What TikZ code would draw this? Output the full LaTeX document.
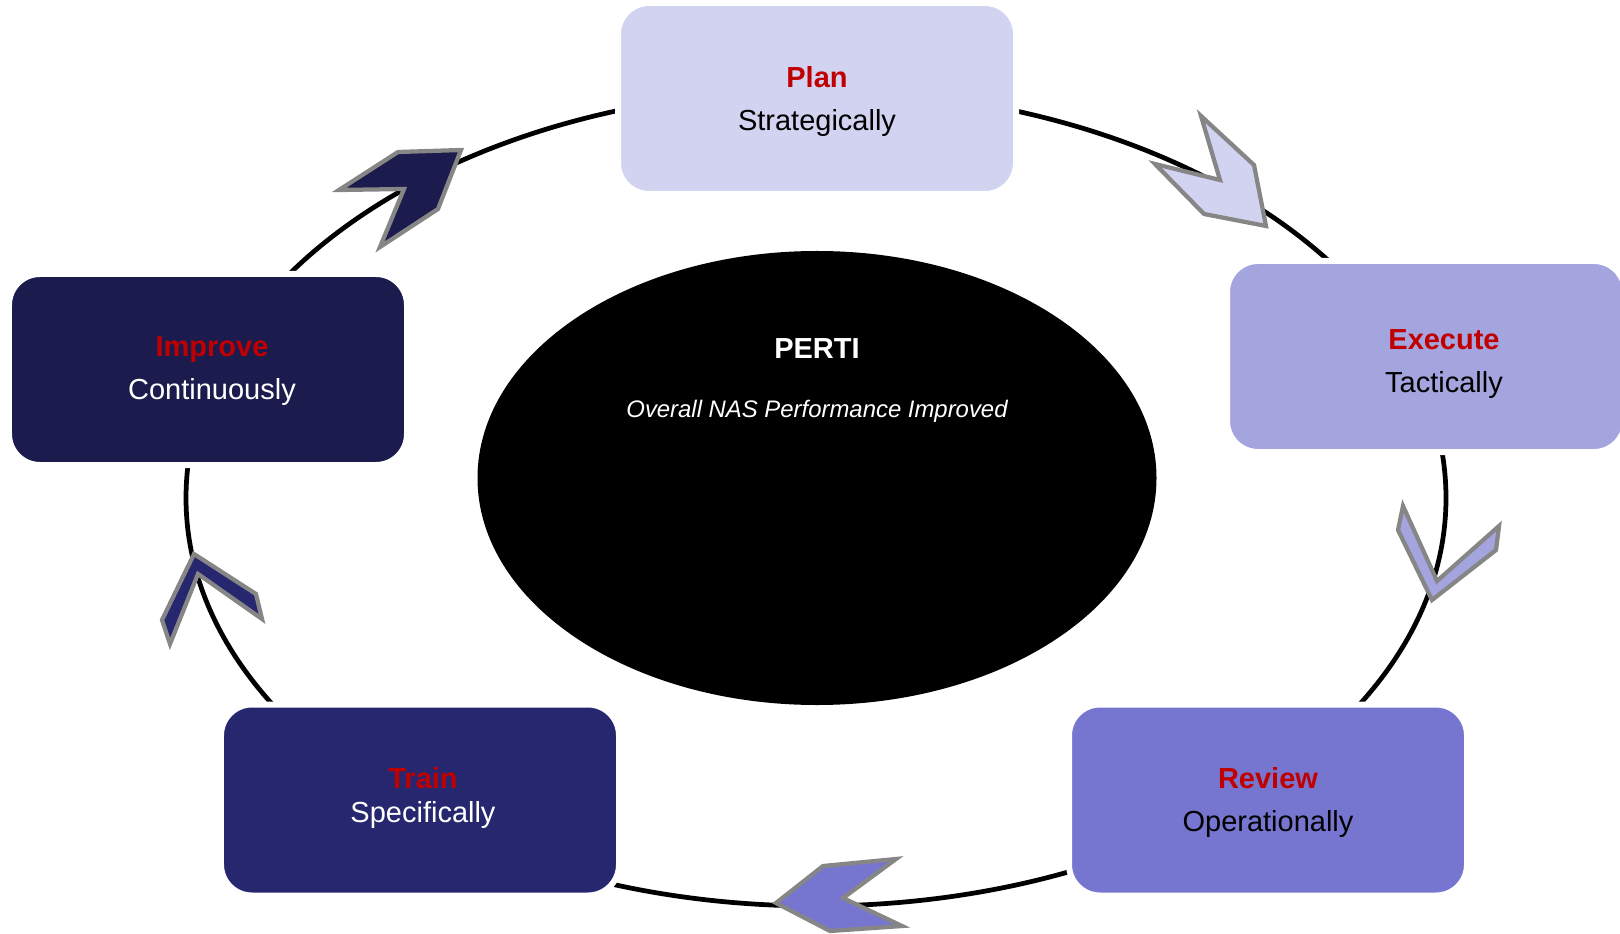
\documentclass[tikz,border=0pt]{standalone}
\usepackage{fontspec}
\setmainfont{Liberation Sans}
\usetikzlibrary{shapes.geometric}

\definecolor{planfill}{HTML}{D1D3F0}
\definecolor{execfill}{HTML}{A4A4DF}
\definecolor{reviewfill}{HTML}{7676D0}
\definecolor{trainfill}{HTML}{272770}
\definecolor{improvefill}{HTML}{1B1B4D}
\definecolor{titlered}{HTML}{C00000}
\definecolor{chevrongray}{HTML}{868686}

\begin{document}
\begin{tikzpicture}[x=0.2mm,y=-0.2mm,
    stage/.style={rectangle,rounded corners=6.2mm,minimum width=79.6mm,minimum height=38.2mm,
                  draw=white,line width=1.2mm,inner sep=0pt},
    caption/.style={align=center,inner sep=0pt,font=\fontsize{16.5}{24.5}\selectfont},
    chevron/.style={draw=chevrongray,line width=0.85mm},
    cycleline/.style={line width=0.95mm}]
  \useasboundingbox (0,0) rectangle (1620,934);

  \coordinate (hub) at (816,498);
  \draw[cycleline] (hub) ellipse [x radius=630,y radius=408];

  \node[ellipse,fill=black,minimum width=135.8mm,minimum height=90.8mm,inner sep=0pt] (perti) at (817,478) {};
  \node[anchor=base,text=white,font=\bfseries\fontsize{16.5}{20}\selectfont] (pertiname) at (817,359) {PERTI};
  \node[anchor=base,text=white,font=\itshape\fontsize{13.6}{16}\selectfont] (pertigoal) at (817,417.5) {Overall NAS Performance Improved};

  \draw[chevron,fill=improvefill] (398,152) -- (461,150) -- (438,209) -- (380,247) -- (404,189) -- (339,190) -- cycle;
  \draw[chevron,fill=planfill] (1201,116) -- (1254,165) -- (1266,226) -- (1204,214) -- (1155,164) -- (1220,180) -- cycle;
  \draw[chevron,fill=execfill] (1403,506) -- (1437,581) -- (1499,526) -- (1496,550) -- (1432,600) -- (1398,530) -- cycle;
  \draw[chevron,fill=reviewfill] (776,903) -- (823,866) -- (896,859) -- (843,898) -- (902,926) -- (830,931) -- cycle;
  \draw[chevron,fill=trainfill] (194,554) -- (256,594) -- (262,619) -- (198,574) -- (170,644) -- (162,620) -- cycle;

  \node[stage,fill=planfill] (plan) at (817,98.5) {};
  \node[stage,fill=execfill] (execute) at (1426,356.5) {};
  \node[stage,fill=reviewfill] (review) at (1268,800) {};
  \node[stage,fill=trainfill] (train) at (420,800) {};
  \node[stage,fill=improvefill] (improve) at (208,369.5) {};

  \node[caption] (plantext) at ([shift={(0,2.7)}]plan.center) {{\bfseries\color{titlered}Plan}\\Strategically};
  \node[caption] (executetext) at ([shift={(18,7.7)}]execute.center) {{\bfseries\color{titlered}Execute}\\Tactically};
  \node[caption] (reviewtext) at ([shift={(0,2.7)}]review.center) {{\bfseries\color{titlered}Review}\\Operationally};
  \node[caption,text=white] (traintext) at ([shift={(3,-2.1)}]train.center) {{\bfseries\color{titlered}Train}\\[-5.4pt]Specifically};
  \node[caption,text=white] (improvetext) at ([shift={(4,1.7)}]improve.center) {{\bfseries\color{titlered}Improve}\\Continuously};
\end{tikzpicture}
\end{document}
